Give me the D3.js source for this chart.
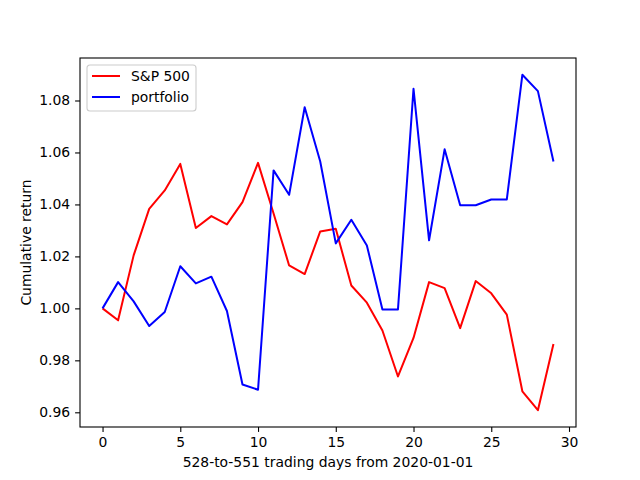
<!DOCTYPE html>
<html>
<head>
<meta charset="utf-8">
<script src="https://cdn.jsdelivr.net/npm/d3@7"></script>
<style>
  body { margin: 0; background: #fff; }
  text { font-family: "DejaVu Sans", sans-serif; fill: #000; }
</style>
</head>
<body>
<div id="chart"></div>
<script>
// data
const days = d3.range(30);
const sp500 = [1.0000, 0.9954, 1.0204, 1.0383, 1.0454, 1.0556, 1.0309, 1.0355, 1.0323, 1.0409,
  1.0560, 1.0365, 1.0165, 1.0132, 1.0296, 1.0306, 1.0088, 1.0022, 0.9915, 0.9738,
  0.9886, 1.0101, 1.0078, 0.9924, 1.0105, 1.0058, 0.9976, 0.9681, 0.9608, 0.9863];
const portfolio = [1.0000, 1.0101, 1.0027, 0.9932, 0.9986, 1.0162, 1.0096, 1.0122, 0.9990, 0.9707,
  0.9687, 1.0531, 1.0437, 1.0774, 1.0565, 1.0250, 1.0341, 1.0242, 0.9996, 0.9996,
  1.0845, 1.0262, 1.0612, 1.0397, 1.0397, 1.0419, 1.0419, 1.0899, 1.0836, 1.0565];
const xTicks = [0, 5, 10, 15, 20, 25, 30];
const yTicks = [0.96, 0.98, 1.00, 1.02, 1.04, 1.06, 1.08];
const seriesNames = ["S&P 500", "portfolio"];
const seriesColors = ["red", "blue"];

const width = 640, height = 480;
const margin = { top: 58, right: 64, bottom: 53, left: 80 };
const fontSize = "13.9px"; // 10pt at 100 dpi

const svg = d3.select("#chart").append("svg")
  .attr("width", width).attr("height", height);

// matplotlib style 5% padding
const allVals = sp500.concat(portfolio);
const yMin = d3.min(allVals), yMax = d3.max(allVals);
const yPad = (yMax - yMin) * 0.05;
const xPad = (days.length - 1) * 0.05;

const x = d3.scaleLinear()
  .domain([-xPad, days.length - 1 + xPad])
  .range([margin.left, width - margin.right]);
const y = d3.scaleLinear()
  .domain([yMin - yPad, yMax + yPad])
  .range([height - margin.bottom, margin.top]);

const xAxis = svg.append("g")
  .attr("transform", `translate(0,${height - margin.bottom})`)
  .call(d3.axisBottom(x).tickValues(xTicks).tickSize(4.9).tickPadding(4.9).tickFormat(d3.format("d")));
const yAxis = svg.append("g")
  .attr("transform", `translate(${margin.left},0)`)
  .call(d3.axisLeft(y).tickValues(yTicks).tickSize(4.9).tickPadding(4.9).tickFormat(d3.format(".2f")));

[xAxis, yAxis].forEach((g) => {
  g.select(".domain").remove();
  g.selectAll("line").attr("stroke", "#000").attr("stroke-width", 1.1);
  g.selectAll("text").style("font-size", fontSize).style("font-family", "DejaVu Sans");
});

// axes frame
svg.append("rect")
  .attr("x", margin.left).attr("y", margin.top)
  .attr("width", width - margin.left - margin.right)
  .attr("height", height - margin.top - margin.bottom)
  .attr("fill", "none").attr("stroke", "#000").attr("stroke-width", 1.1);

const line = d3.line()
  .x((d, i) => x(days[i]))
  .y((d) => y(d));

[sp500, portfolio].forEach((vals, k) => {
  svg.append("path")
    .datum(vals)
    .attr("fill", "none")
    .attr("stroke", seriesColors[k])
    .attr("stroke-width", 2)
    .attr("stroke-linejoin", "round")
    .attr("d", line);
});

// axis labels
svg.append("text")
  .attr("x", (margin.left + width - margin.right) / 2)
  .attr("y", 467)
  .attr("text-anchor", "middle")
  .style("font-size", fontSize)
  .text("528-to-551 trading days from 2020-01-01");

svg.append("text")
  .attr("transform", `translate(31,${(margin.top + height - margin.bottom) / 2}) rotate(-90)`)
  .attr("text-anchor", "middle")
  .style("font-size", fontSize)
  .text("Cumulative return");

// legend
const legend = svg.append("g").attr("transform", "translate(87,65)");
legend.append("rect")
  .attr("width", 109).attr("height", 46).attr("rx", 3)
  .attr("fill", "#fff").attr("fill-opacity", 0.8)
  .attr("stroke", "#ccc").attr("stroke-width", 1.1);
seriesNames.forEach((name, i) => {
  const ly = 11 + i * 21;
  legend.append("line")
    .attr("x1", 5).attr("x2", 33).attr("y1", ly).attr("y2", ly)
    .attr("stroke", seriesColors[i]).attr("stroke-width", 2);
  legend.append("text")
    .attr("x", 44).attr("y", ly + 5)
    .style("font-size", fontSize)
    .text(name);
});
</script>
</body>
</html>
